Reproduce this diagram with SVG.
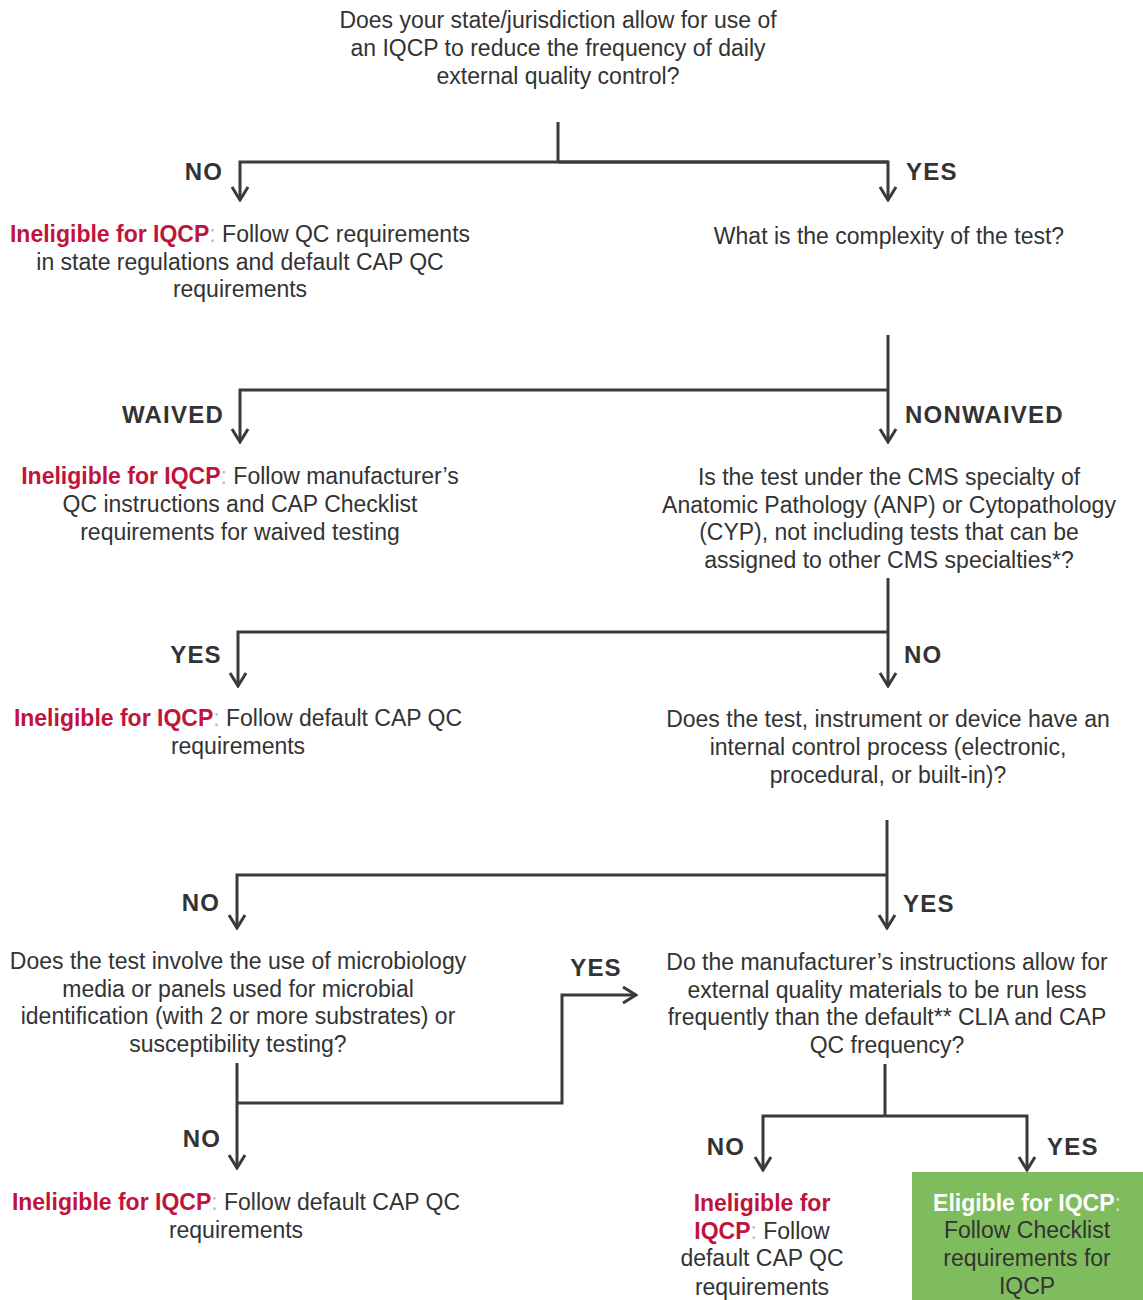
<svg xmlns="http://www.w3.org/2000/svg" width="1143" height="1300" viewBox="0 0 1143 1300">
<defs>
<style>
.t{font-family:"Liberation Sans",Arial,sans-serif;font-size:23px;fill:#333;text-anchor:middle}
.l{font-family:"Liberation Sans",Arial,sans-serif;font-size:24px;font-weight:bold;fill:#333;letter-spacing:1.2px}
.r{fill:#c0143c;font-weight:bold}
.w{fill:#fff;font-weight:bold}
.c{fill:none;stroke:#3a3a3a;stroke-width:3}
</style>
<marker id="ah" viewBox="0 0 20 20" refX="18" refY="10" markerWidth="20" markerHeight="20" markerUnits="userSpaceOnUse" orient="auto">
<path d="M5,2 L18,10 L5,18" fill="none" stroke="#3a3a3a" stroke-width="3"/>
</marker>
</defs>
<rect width="1143" height="1300" fill="#fff"/>
<g id="connectors">
<path class="c" d="M558,122 V162"/>
<path class="c" d="M888,162 H240 V200" marker-end="url(#ah)"/>
<path class="c" d="M558,162 H888 V200" marker-end="url(#ah)"/>
<path class="c" d="M888,335 V442" marker-end="url(#ah)"/>
<path class="c" d="M888,390 H240 V442" marker-end="url(#ah)"/>
<path class="c" d="M888,578 V686" marker-end="url(#ah)"/>
<path class="c" d="M888,632 H238 V686" marker-end="url(#ah)"/>
<path class="c" d="M887,820 V928" marker-end="url(#ah)"/>
<path class="c" d="M887,875 H237 V928" marker-end="url(#ah)"/>
<path class="c" d="M237,1063 V1168" marker-end="url(#ah)"/>
<path class="c" d="M237,1103 H562 V995 H636" marker-end="url(#ah)"/>
<path class="c" d="M885,1064 V1116"/>
<path class="c" d="M885,1116 H763 V1170" marker-end="url(#ah)"/>
<path class="c" d="M885,1116 H1027 V1170" marker-end="url(#ah)"/>
</g>
<g id="labels">
<text class="l" x="204" y="180" text-anchor="middle">NO</text>
<text class="l" x="906" y="180">YES</text>
<text class="l" x="173" y="423" text-anchor="middle">WAIVED</text>
<text class="l" x="905" y="423">NONWAIVED</text>
<text class="l" x="196" y="663" text-anchor="middle">YES</text>
<text class="l" x="904" y="663">NO</text>
<text class="l" x="201" y="911" text-anchor="middle">NO</text>
<text class="l" x="903" y="912">YES</text>
<text class="l" x="596" y="976" text-anchor="middle">YES</text>
<text class="l" x="202" y="1147" text-anchor="middle">NO</text>
<text class="l" x="726" y="1155" text-anchor="middle">NO</text>
<text class="l" x="1047" y="1155">YES</text>
</g>
<g id="q1">
<text class="t" x="558" y="28">Does your state/jurisdiction allow for use of</text>
<text class="t" x="558" y="56">an IQCP to reduce the frequency of daily</text>
<text class="t" x="558" y="84">external quality control?</text>
</g>
<g id="n-ineligible-state">
<text class="t" x="240" y="242"><tspan class="r">Ineligible for IQCP</tspan><tspan fill="#bbb">:</tspan> Follow QC requirements</text>
<text class="t" x="240" y="270">in state regulations and default CAP QC</text>
<text class="t" x="240" y="297">requirements</text>
</g>
<g id="q2">
<text class="t" x="889" y="244">What is the complexity of the test?</text>
</g>
<g id="n-ineligible-waived">
<text class="t" x="240" y="484"><tspan class="r">Ineligible for IQCP</tspan><tspan fill="#bbb">:</tspan> Follow manufacturer’s</text>
<text class="t" x="240" y="512">QC instructions and CAP Checklist</text>
<text class="t" x="240" y="540">requirements for waived testing</text>
</g>
<g id="q3">
<text class="t" x="889" y="485">Is the test under the CMS specialty of</text>
<text class="t" x="889" y="513">Anatomic Pathology (ANP) or Cytopathology</text>
<text class="t" x="889" y="540">(CYP), not including tests that can be</text>
<text class="t" x="889" y="568">assigned to other CMS specialties*?</text>
</g>
<g id="n-ineligible-anp">
<text class="t" x="238" y="726"><tspan class="r">Ineligible for IQCP</tspan><tspan fill="#bbb">:</tspan> Follow default CAP QC</text>
<text class="t" x="238" y="754">requirements</text>
</g>
<g id="q4">
<text class="t" x="888" y="727">Does the test, instrument or device have an</text>
<text class="t" x="888" y="755">internal control process (electronic,</text>
<text class="t" x="888" y="783">procedural, or built-in)?</text>
</g>
<g id="q5">
<text class="t" x="238" y="969">Does the test involve the use of microbiology</text>
<text class="t" x="238" y="997">media or panels used for microbial</text>
<text class="t" x="238" y="1024">identification (with 2 or more substrates) or</text>
<text class="t" x="238" y="1052">susceptibility testing?</text>
</g>
<g id="q6">
<text class="t" x="887" y="970">Do the manufacturer’s instructions allow for</text>
<text class="t" x="887" y="998">external quality materials to be run less</text>
<text class="t" x="887" y="1025">frequently than the default** CLIA and CAP</text>
<text class="t" x="887" y="1053">QC frequency?</text>
</g>
<g id="n-ineligible-micro">
<text class="t" x="236" y="1210"><tspan class="r">Ineligible for IQCP</tspan><tspan fill="#bbb">:</tspan> Follow default CAP QC</text>
<text class="t" x="236" y="1238">requirements</text>
</g>
<g id="n-ineligible-mfr">
<text class="t" x="762" y="1211"><tspan class="r">Ineligible for</tspan></text>
<text class="t" x="762" y="1239"><tspan class="r">IQCP</tspan><tspan fill="#bbb">:</tspan> Follow</text>
<text class="t" x="762" y="1266">default CAP QC</text>
<text class="t" x="762" y="1295">requirements</text>
</g>
<g id="n-eligible">
<rect x="912" y="1172" width="231" height="128" fill="#7fbc5e"/>
<text class="t" x="1027" y="1211"><tspan class="w">Eligible for IQCP</tspan><tspan fill="#cfe6c2">:</tspan></text>
<text class="t" x="1027" y="1238">Follow Checklist</text>
<text class="t" x="1027" y="1266">requirements for</text>
<text class="t" x="1027" y="1294">IQCP</text>
</g>
</svg>
